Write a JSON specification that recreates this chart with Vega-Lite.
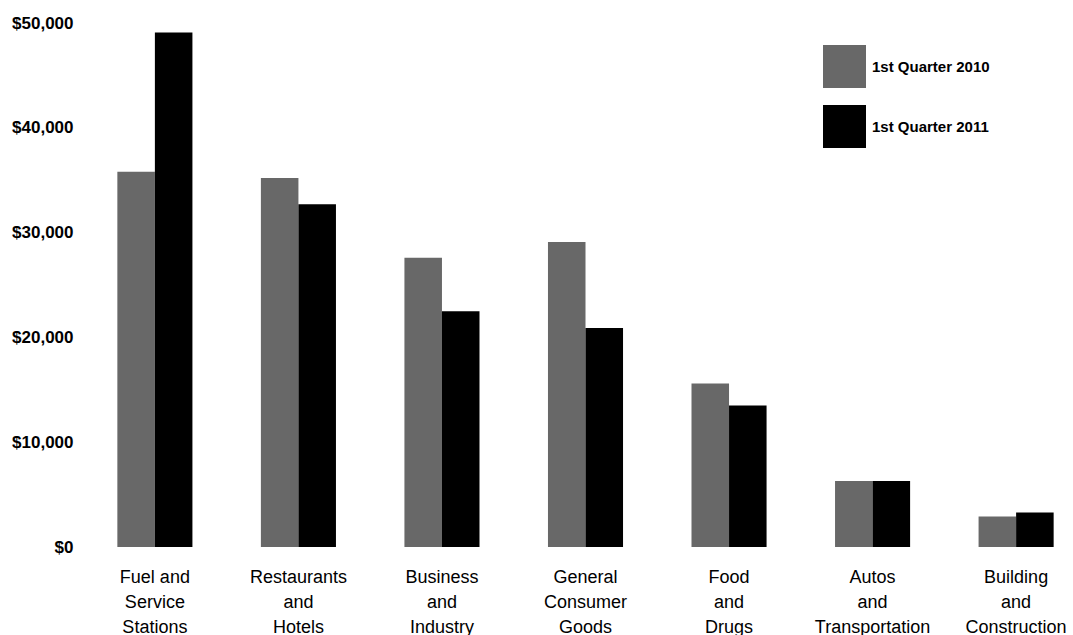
{
  "$schema": "https://vega.github.io/schema/vega-lite/v6.json",
  "autosize": {"type": "none"},
  "padding": {"left": 103, "top": 23, "right": 5, "bottom": 88},
  "width": 965,
  "height": 524,
  "background": "white",
  "data": {
    "values": [
      {"category": "Fuel and Service Stations", "period": "1st Quarter 2010", "amount": 35800},
      {"category": "Fuel and Service Stations", "period": "1st Quarter 2011", "amount": 49100},
      {"category": "Restaurants and Hotels", "period": "1st Quarter 2010", "amount": 35200},
      {"category": "Restaurants and Hotels", "period": "1st Quarter 2011", "amount": 32700},
      {"category": "Business and Industry", "period": "1st Quarter 2010", "amount": 27600},
      {"category": "Business and Industry", "period": "1st Quarter 2011", "amount": 22500},
      {"category": "General Consumer Goods", "period": "1st Quarter 2010", "amount": 29100},
      {"category": "General Consumer Goods", "period": "1st Quarter 2011", "amount": 20900},
      {"category": "Food and Drugs", "period": "1st Quarter 2010", "amount": 15600},
      {"category": "Food and Drugs", "period": "1st Quarter 2011", "amount": 13500},
      {"category": "Autos and Transportation", "period": "1st Quarter 2010", "amount": 6300},
      {"category": "Autos and Transportation", "period": "1st Quarter 2011", "amount": 6300},
      {"category": "Building and Construction", "period": "1st Quarter 2010", "amount": 2900},
      {"category": "Building and Construction", "period": "1st Quarter 2011", "amount": 3300}
    ]
  },
  "mark": {"type": "bar"},
  "encoding": {
    "x": {
      "field": "category",
      "type": "nominal",
      "sort": null,
      "scale": {"paddingInner": 0.477, "paddingOuter": 0.1},
      "axis": {
        "title": null,
        "domain": false,
        "ticks": false,
        "labelAngle": 0,
        "labelFont": "Liberation Sans",
        "labelFontSize": 18,
        "labelColor": "#000000",
        "labelPadding": 21,
        "labelLineHeight": 25,
        "labelBaseline": "top",
        "labelExpr": "datum.value == 'Fuel and Service Stations' ? ['Fuel and', 'Service', 'Stations'] : split(datum.value, ' ')"
      }
    },
    "xOffset": {"field": "period", "type": "nominal", "scale": {"paddingInner": 0, "paddingOuter": 0}},
    "y": {
      "field": "amount",
      "type": "quantitative",
      "scale": {"domain": [0, 50000], "nice": false},
      "axis": {
        "title": null,
        "domain": false,
        "ticks": false,
        "grid": false,
        "values": [0, 10000, 20000, 30000, 40000, 50000],
        "format": "$,.0f",
        "labelFont": "Liberation Sans",
        "labelFontSize": 17,
        "labelFontWeight": "bold",
        "labelColor": "#000000",
        "labelPadding": 30
      }
    },
    "color": {
      "field": "period",
      "type": "nominal",
      "scale": {"domain": ["1st Quarter 2010", "1st Quarter 2011"], "range": ["#686868", "#000000"]},
      "legend": {
        "title": null,
        "orient": "none",
        "legendX": 720,
        "legendY": 22,
        "padding": 0,
        "symbolType": "square",
        "symbolSize": 1849,
        "symbolStrokeWidth": 0,
        "symbolOpacity": 1,
        "rowPadding": 17,
        "labelOffset": 6,
        "labelFont": "Liberation Sans",
        "labelFontSize": 15,
        "labelFontWeight": "bold",
        "labelColor": "#000000",
        "labelLimit": 300
      }
    }
  },
  "config": {"view": {"stroke": null}}
}
